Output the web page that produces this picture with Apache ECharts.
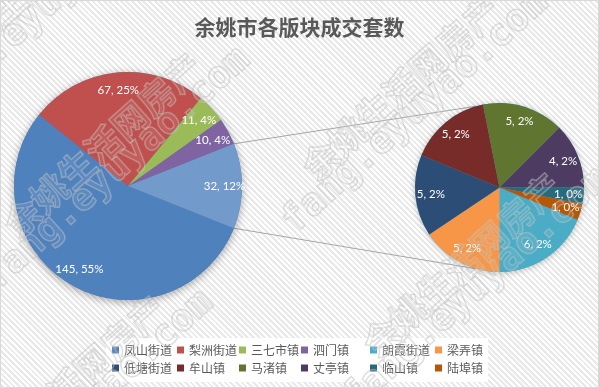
<!DOCTYPE html>
<html><head><meta charset="utf-8">
<script src="https://cdn.jsdelivr.net/npm/echarts@6/dist/echarts.min.js"></script>
<style>
html,body{margin:0;padding:0;}
#c{width:599px;height:388px;background:repeating-linear-gradient(45deg,#ffffff 0px,#ffffff 2px,#e9e9e9 2px,#e9e9e9 4px);}
</style></head><body><div id="c"></div>
<script>
const titleText = '余姚市各版块成交套数';
const mainNames = ['凤山街道','梨洲街道','三七市镇','泗门镇','其他'];
const mainValues = [145,67,11,10,32];
const subNames = ['朗霞街道','梁弄镇','低塘街道','牟山镇','马渚镇','丈亭镇','临山镇','陆埠镇'];
const subValues = [6,5,5,5,5,4,1,1];
const mainColors = ['#4F81BD','#C0504D','#9BBB59','#8064A2','#729ACB'];
const subColors = ['#4BACC6','#F79646','#2C4D75','#772C2A','#5F7530','#4D3B62','#276A7C','#B65708'];
const watermarkCn = '余姚生活网房产';
const watermarkEn = 'fang.eyuyao.com';

// layout
const MC = [128,186], MR = 114;
const SC = [499.5,187.5], SR = 84.5;
const total = mainValues.reduce((a,b)=>a+b,0);
const mainStart = -mainValues[4]/total*180;
const subStart = -22.5;
const fmt = p => p.value + ', ' + Math.round(p.value/total*100) + '%';
const labelStyle = {show:true, position:'inside', formatter:fmt, color:'#fff', fontFamily:'Lato', fontSize:11.5};

const chart = echarts.init(document.getElementById('c'), null, {renderer:'canvas'});

function pieData(names, vals, colors, transparent){
  return names.map((n,i)=>({name:n, value:vals[i], itemStyle:{color: transparent ? 'rgba(0,0,0,0)' : colors[i], borderWidth:0}}));
}

const legendNames = mainNames.slice(0,4).concat(subNames);
const colX = [112,177,239,301,370,435];
const legends = colX.map((x,i)=>({
  orient:'vertical', left:x, top:343, padding:0, itemWidth:7, itemHeight:7, itemGap:4, icon:'rect',
  selectedMode:false,
  textStyle:{fontFamily:'Noto Sans CJK SC', fontSize:12, color:'#595959', lineHeight:14},
  data:[legendNames[i], legendNames[i+6]]
}));

// connectors
const deg = Math.PI/180;
const a = -mainStart;
const conn = [1,-1].map(s=>{
  const p1 = [MC[0]+MR*Math.cos(s*a*deg), MC[1]-MR*Math.sin(s*a*deg)];
  const b = s*105.5;
  const p2 = [SC[0]+SR*Math.cos(b*deg), SC[1]-SR*Math.sin(b*deg)];
  return {type:'line', z:1, shape:{x1:p1[0],y1:p1[1],x2:p2[0],y2:p2[1]}, style:{stroke:'#a6a6a6', lineWidth:1}};
});

// watermark tiles (position of first character)
const wmTiles = [[23,217],[321,160],[382,337],[-14,460],[-46,52]];
const th = 42*deg;
const u = [Math.cos(th), -Math.sin(th)], n = [Math.sin(th), Math.cos(th)];
const wm = [];
wmTiles.forEach(t=>{
  wm.push({type:'text', z:100, silent:true, x:t[0]-18*u[0], y:t[1]-18*u[1], rotation:th,
    style:{text:watermarkCn, font:'bold 36px "Noto Sans CJK SC"', align:'left', verticalAlign:'middle',
      fill:'rgba(255,255,255,0.08)', stroke:'rgba(190,190,190,0.5)', lineWidth:1.5}});
  const sx = t[0] - 58*u[0] + 28*n[0] - 11.4*u[0];
  const sy = t[1] - 58*u[1] + 28*n[1] - 11.4*u[1];
  wm.push({type:'text', z:100, silent:true, x:sx, y:sy, rotation:th,
    style:{text:watermarkEn, font:'bold 38px "DejaVu Sans Mono"', align:'left', verticalAlign:'middle',
      fill:'rgba(255,255,255,0.08)', stroke:'rgba(190,190,190,0.5)', lineWidth:1.5}});
});

chart.setOption({
  backgroundColor:'transparent',
  animation:false,
  title:{text:titleText, left:'center', top:12, textStyle:{fontFamily:'Noto Sans CJK SC', fontSize:21, fontWeight:'bold', color:'#595959'}},
  legend:legends,
  graphic:[
    {type:'rect', z:0, shape:{x:106,y:338,width:382,height:44}, style:{fill:'#ffffff'}},
    ...conn,
    ...wm,
    {type:'rect', z:200, silent:true, shape:{x:0.5,y:0.5,width:598,height:387}, style:{fill:'none', stroke:'#d9d9d9', lineWidth:1}}
  ],
  series:[
    {type:'pie', silent:true, z:1, center:MC, radius:MR, label:{show:false}, labelLine:{show:false},
      data:[{value:1, name:'', itemStyle:{color:'#4F81BD', shadowBlur:8, shadowColor:'rgba(0,0,0,0.35)', shadowOffsetY:2}}]},
    {type:'pie', silent:true, z:1, center:SC, radius:SR, label:{show:false}, labelLine:{show:false},
      data:[{value:1, name:'', itemStyle:{color:'#4BACC6', shadowBlur:6, shadowColor:'rgba(0,0,0,0.25)', shadowOffsetY:1}}]},
    {type:'pie', silent:true, z:2, center:MC, radius:MR, startAngle:mainStart, clockwise:true,
      label:{show:false}, labelLine:{show:false}, data:pieData(mainNames, mainValues, mainColors, false)},
    {type:'pie', silent:true, z:2, center:SC, radius:SR, startAngle:subStart, clockwise:true,
      label:{show:false}, labelLine:{show:false}, data:pieData(subNames, subValues, subColors, false)},
    {type:'pie', silent:true, z:3, center:MC, radius:[MR*0.64, MR], startAngle:mainStart, clockwise:true,
      avoidLabelOverlap:false, label:labelStyle, labelLine:{show:false}, data:pieData(mainNames, mainValues, mainColors, true)},
    {type:'pie', silent:true, z:3, center:SC, radius:[SR*0.56, SR], startAngle:subStart, clockwise:true,
      avoidLabelOverlap:false, label:labelStyle, labelLine:{show:false}, data:pieData(subNames, subValues, subColors, true)}
  ]
});
</script></body></html>
